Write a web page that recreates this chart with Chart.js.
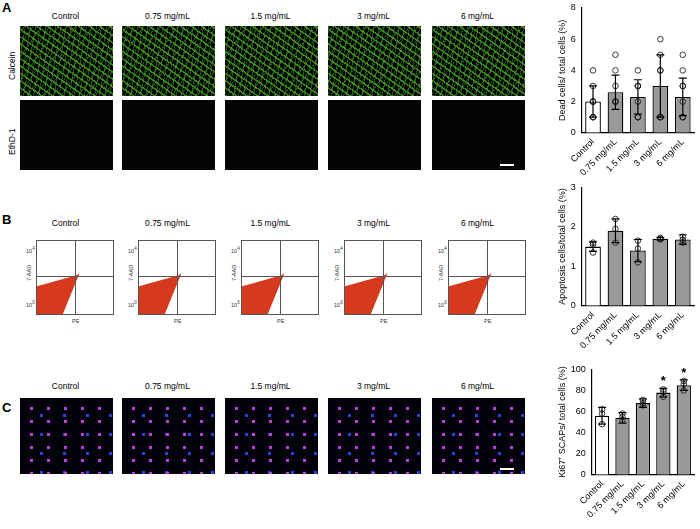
<!DOCTYPE html>
<html><head><meta charset="utf-8">
<script src="https://cdn.jsdelivr.net/npm/chart.js@4/dist/chart.umd.min.js"></script>
<style>
body{margin:0;width:700px;height:529px;background:#fff;position:relative;font-family:"Liberation Sans",Arial,sans-serif;overflow:hidden}
.abs{position:absolute}
.lbl{position:absolute;font-size:8.5px;text-align:center;width:95px}
.pl{position:absolute;font-weight:bold;font-size:13px}
.rl{position:absolute;font-size:8.5px;transform:rotate(-90deg);transform-origin:center}
.calc{position:absolute;background:#000;
 background-image:repeating-linear-gradient(35deg,rgba(70,180,30,.75) 0 1.5px,transparent 1.5px 6px),repeating-linear-gradient(-55deg,rgba(60,160,25,.55) 0 1px,transparent 1px 7px),repeating-linear-gradient(100deg,rgba(80,190,40,.45) 0 1px,transparent 1px 5px)}
.eth{position:absolute;background:#050505}
.ki{position:absolute;background:#02020a;
 background-image:radial-gradient(circle,#c03cdc 0 1.5px,transparent 2px),radial-gradient(circle,#3040e0 0 1.5px,transparent 2px);
 background-size:17px 13px,23px 19px;background-position:3px 4px,10px 8px}
.fc{position:absolute;border:1px solid #555;background:#fff;overflow:hidden}
.tri{position:absolute;left:0;top:0;width:100%;height:100%;background:#d63a1e;clip-path:polygon(0 62%,52% 47%,56% 44%,34% 100%,0 100%)}
.vl{position:absolute;left:50%;top:0;bottom:0;width:1px;background:#555}
.hl{position:absolute;top:48%;left:0;right:0;height:1px;background:#555}
.sm{position:absolute;font-size:5.5px;color:#333;white-space:nowrap}
.smr{position:absolute;font-size:5.5px;color:#333;white-space:nowrap;transform:rotate(-90deg)}
</style></head><body>
<div class="pl" style="left:2px;top:0px">A</div>
<div class="pl" style="left:2px;top:212px">B</div>
<div class="pl" style="left:2px;top:400px">C</div>
<div id="fig"></div>
<canvas id="cA" class="abs" style="left:552px;top:0;width:148px;height:180px" width="148" height="180"></canvas>
<canvas id="cB" class="abs" style="left:552px;top:180px;width:148px;height:185px" width="148" height="185"></canvas>
<canvas id="cC" class="abs" style="left:552px;top:362px;width:148px;height:167px" width="148" height="167"></canvas>
<script>
const categories=["Control","0.75 mg/mL","1.5 mg/mL","3 mg/mL","6 mg/mL"];
const deadMean=[2.0,2.6,2.3,3.0,2.3];
const deadSd=[1.0,1.1,1.1,2.0,1.2];
const deadPts=[[4,3,2,2,2,1,1,1],[5,4,3,2,2,2],[4,3,3,3,2,1,1,1],[6,5,4,4,1,1,1,1],[5,4,3,3,2,1,1,1]];
const apoMean=[1.5,1.9,1.4,1.7,1.68];
const apoSd=[0.12,0.3,0.28,0.03,0.12];
const apoPts=[[1.6,1.55,1.35],[2.2,1.6,1.95],[1.65,1.1,1.45],[1.7,1.68,1.72],[1.75,1.6,1.67]];
const kiMean=[56,54,68,78,85];
const kiSd=[8,5,4,4,5];
const kiPts=[[62,48,58],[58,52,55],[71,66,68],[81,74,79],[89,80,86]];
const kiStar=[false,false,false,true,true];
const ticksA=[0,2,4,6,8],ticksB=[0,1,2,3],ticksC=[0,20,40,60,80,100];

const fig=document.getElementById('fig');
const xs=[20,122,225,328,432], w=93;
function add(cls,l,t,ww,hh,html){const d=document.createElement('div');d.className=cls;d.style.left=l+'px';d.style.top=t+'px';if(ww)d.style.width=ww+'px';if(hh)d.style.height=hh+'px';if(html)d.innerHTML=html;fig.appendChild(d);return d;}
xs.forEach((x,i)=>{
 add('lbl',x-1,11,w,null,categories[i]);
 add('calc',x,26,w,70);
 add('eth',x,100,w,70);
 add('lbl',x-1,218,w,null,categories[i]);
 add('fc',x+16,240,76,73,'<div class="tri"></div><div class="vl"></div><div class="hl"></div>');
 add('sm',x+6,300,8,null,'10<sup>0</sup>');
 add('sm',x+6,246,8,null,'10<sup>4</sup>');
 add('smr',x+1,270,null,null,'7-AAD');
 add('sm',x+52,318,8,null,'PE');
 add('lbl',x-1,381,w,null,categories[i]);
 add('ki',x,398,w,76);
});
add('rl',-8,55,40,null,'Calcein');
add('rl',-8,130,40,null,'EthD-1');
add('abs',500,164,14,2).style.background='#fff';
add('abs',500,468,14,2).style.background='#fff';

const errPlugin={id:'err',afterDatasetsDraw(ch){
 const {ctx,scales:{x,y}}=ch;const m=ch.options.plugins.err;ctx.save();ctx.strokeStyle='#000';ctx.lineWidth=1.2;
 m.mean.forEach((v,i)=>{const px=x.getPixelForValue(i),t=y.getPixelForValue(v+m.sd[i]),b=y.getPixelForValue(v-m.sd[i]);
  ctx.beginPath();ctx.moveTo(px,t);ctx.lineTo(px,b);ctx.moveTo(px-4,t);ctx.lineTo(px+4,t);ctx.moveTo(px-4,b);ctx.lineTo(px+4,b);ctx.stroke();
  if(m.star&&m.star[i]){ctx.fillStyle='#000';ctx.font='bold 13px Liberation Sans';ctx.textAlign='center';ctx.fillText('*',px,t-3);}
 });ctx.restore();}};
function make(id,mean,sd,pts,ticks,max,title,star,pad){
 const scatter=[];pts.forEach((arr,i)=>arr.forEach(v=>scatter.push({x:categories[i],y:v})));
 new Chart(document.getElementById(id),{data:{labels:categories,datasets:[
  {type:'scatter',data:scatter,pointStyle:'circle',pointRadius:2.8,borderColor:'#222',borderWidth:0.9,backgroundColor:'rgba(0,0,0,0)'},
  {type:'bar',data:mean,backgroundColor:mean.map((v,i)=>i?'#999':'#fff'),borderColor:'#000',borderWidth:1.3,barPercentage:0.7,categoryPercentage:1}]},
 options:{responsive:false,animation:false,layout:{padding:pad},
  plugins:{legend:{display:false},tooltip:{enabled:false},err:{mean,sd,star}},
  scales:{x:{type:'category',offset:true,grid:{display:false,drawTicks:true,tickLength:4,color:'#000'},border:{color:'#000',width:1.2},
    ticks:{color:'#000',font:{size:9,family:'Liberation Sans'},maxRotation:45,minRotation:45,padding:0}},
   y:{min:0,max:max,afterBuildTicks:s=>{s.ticks=ticks.map(v=>({value:v}))},grid:{display:false,drawTicks:true,tickLength:4,color:'#000'},border:{color:'#000',width:1.2},
    ticks:{color:'#000',font:{size:9,family:'Liberation Sans'},padding:2},
    title:{display:true,text:title,color:'#000',font:{size:9,family:'Liberation Sans'},padding:1}}}},
 plugins:[errPlugin]});
}
make('cA',deadMean,deadSd,deadPts,ticksA,8,'Dead cells/ total cells (%)',null,{top:8,right:6,left:4,bottom:2});
make('cB',apoMean,apoSd,apoPts,ticksB,3,'Apoptosis cells/total cells (%)',null,{top:5,right:6,left:4,bottom:14});
make('cC',kiMean,kiSd,kiPts,ticksC,100,'Ki67⁺ SCAPs/ total cells (%)',kiStar,{top:6,right:6,left:4,bottom:9});
</script></body></html>
